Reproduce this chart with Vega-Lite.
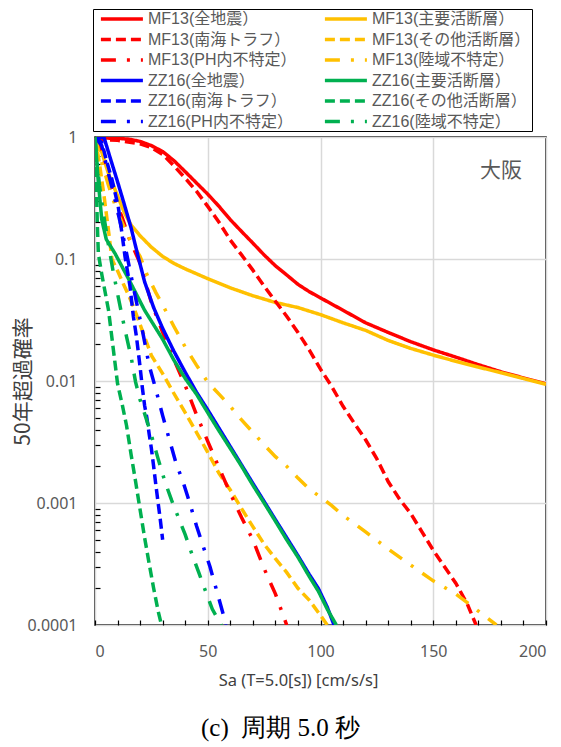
{
"$schema": "https://vega.github.io/schema/vega-lite/v6.json",
"width": 451, "height": 488,
"autosize": {"type": "none"},
"padding": {"left": 95, "top": 137, "right": 15, "bottom": 122},
"background": "white",
"config": {"view": {"stroke": "#000000", "strokeWidth": 1.5}, "font": "Noto Sans"},
"title": {"text": "(c)\u2002周期 5.0 秒", "orient": "bottom", "font": "Liberation Serif", "fontSize": 25, "fontWeight": "normal", "color": "#000000", "offset": 27, "dx": -40, "anchor": "middle"},
"resolve": {"axis": {"x": "independent", "y": "independent"}},
"layer": [
{
"data": {"values": [
{"s":"MF13(全地震）","x":0,"p":0.985},{"s":"MF13(全地震）","x":10,"p":0.975},{"s":"MF13(全地震）","x":15,"p":0.96},{"s":"MF13(全地震）","x":20,"p":0.92},{"s":"MF13(全地震）","x":25,"p":0.85},{"s":"MF13(全地震）","x":30,"p":0.76},{"s":"MF13(全地震）","x":35,"p":0.64},{"s":"MF13(全地震）","x":40,"p":0.52},{"s":"MF13(全地震）","x":45,"p":0.42},{"s":"MF13(全地震）","x":50,"p":0.34},{"s":"MF13(全地震）","x":55,"p":0.27},{"s":"MF13(全地震）","x":60,"p":0.21},{"s":"MF13(全地震）","x":65,"p":0.168},{"s":"MF13(全地震）","x":70,"p":0.135},{"s":"MF13(全地震）","x":75,"p":0.108},{"s":"MF13(全地震）","x":80,"p":0.088},{"s":"MF13(全地震）","x":85,"p":0.074},{"s":"MF13(全地震）","x":90,"p":0.062},{"s":"MF13(全地震）","x":95,"p":0.054},{"s":"MF13(全地震）","x":100,"p":0.048},{"s":"MF13(全地震）","x":110,"p":0.038},{"s":"MF13(全地震）","x":120,"p":0.030},{"s":"MF13(全地震）","x":130,"p":0.025},{"s":"MF13(全地震）","x":140,"p":0.021},{"s":"MF13(全地震）","x":150,"p":0.018},{"s":"MF13(全地震）","x":160,"p":0.0157},{"s":"MF13(全地震）","x":170,"p":0.0136},{"s":"MF13(全地震）","x":180,"p":0.0119},{"s":"MF13(全地震）","x":190,"p":0.0106},{"s":"MF13(全地震）","x":200,"p":0.0095},
{"s":"MF13(主要活断層）","x":0,"p":1},{"s":"MF13(主要活断層）","x":3,"p":0.75},{"s":"MF13(主要活断層）","x":6,"p":0.5},{"s":"MF13(主要活断層）","x":10,"p":0.33},{"s":"MF13(主要活断層）","x":13,"p":0.24},{"s":"MF13(主要活断層）","x":16,"p":0.19},{"s":"MF13(主要活断層）","x":20,"p":0.155},{"s":"MF13(主要活断層）","x":25,"p":0.125},{"s":"MF13(主要活断層）","x":30,"p":0.105},{"s":"MF13(主要活断層）","x":35,"p":0.092},{"s":"MF13(主要活断層）","x":40,"p":0.083},{"s":"MF13(主要活断層）","x":50,"p":0.069},{"s":"MF13(主要活断層）","x":60,"p":0.058},{"s":"MF13(主要活断層）","x":70,"p":0.05},{"s":"MF13(主要活断層）","x":80,"p":0.044},{"s":"MF13(主要活断層）","x":90,"p":0.04},{"s":"MF13(主要活断層）","x":100,"p":0.035},{"s":"MF13(主要活断層）","x":110,"p":0.03},{"s":"MF13(主要活断層）","x":120,"p":0.026},{"s":"MF13(主要活断層）","x":130,"p":0.0215},{"s":"MF13(主要活断層）","x":140,"p":0.0185},{"s":"MF13(主要活断層）","x":150,"p":0.0163},{"s":"MF13(主要活断層）","x":160,"p":0.0145},{"s":"MF13(主要活断層）","x":170,"p":0.013},{"s":"MF13(主要活断層）","x":180,"p":0.0117},{"s":"MF13(主要活断層）","x":190,"p":0.0105},{"s":"MF13(主要活断層）","x":200,"p":0.0094},
{"s":"MF13(南海トラフ）","x":0,"p":0.95},{"s":"MF13(南海トラフ）","x":10,"p":0.94},{"s":"MF13(南海トラフ）","x":20,"p":0.88},{"s":"MF13(南海トラフ）","x":25,"p":0.82},{"s":"MF13(南海トラフ）","x":30,"p":0.72},{"s":"MF13(南海トラフ）","x":35,"p":0.58},{"s":"MF13(南海トラフ）","x":40,"p":0.46},{"s":"MF13(南海トラフ）","x":45,"p":0.36},{"s":"MF13(南海トラフ）","x":50,"p":0.27},{"s":"MF13(南海トラフ）","x":55,"p":0.2},{"s":"MF13(南海トラフ）","x":60,"p":0.143},{"s":"MF13(南海トラフ）","x":65,"p":0.108},{"s":"MF13(南海トラフ）","x":70,"p":0.081},{"s":"MF13(南海トラフ）","x":75,"p":0.06},{"s":"MF13(南海トラフ）","x":80,"p":0.045},{"s":"MF13(南海トラフ）","x":85,"p":0.034},{"s":"MF13(南海トラフ）","x":90,"p":0.025},{"s":"MF13(南海トラフ）","x":95,"p":0.018},{"s":"MF13(南海トラフ）","x":100,"p":0.0125},{"s":"MF13(南海トラフ）","x":105,"p":0.009},{"s":"MF13(南海トラフ）","x":110,"p":0.0062},{"s":"MF13(南海トラフ）","x":115,"p":0.0045},{"s":"MF13(南海トラフ）","x":120,"p":0.0033},{"s":"MF13(南海トラフ）","x":125,"p":0.0023},{"s":"MF13(南海トラフ）","x":130,"p":0.0015},{"s":"MF13(南海トラフ）","x":135,"p":0.00108},{"s":"MF13(南海トラフ）","x":140,"p":0.00082},{"s":"MF13(南海トラフ）","x":145,"p":0.00058},{"s":"MF13(南海トラフ）","x":150,"p":0.00041},{"s":"MF13(南海トラフ）","x":155,"p":0.0003},{"s":"MF13(南海トラフ）","x":160,"p":0.00022},{"s":"MF13(南海トラフ）","x":165,"p":0.00015},{"s":"MF13(南海トラフ）","x":169,"p":0.0001},
{"s":"MF13(その他活断層）","x":0,"p":1},{"s":"MF13(その他活断層）","x":2,"p":0.6},{"s":"MF13(その他活断層）","x":4,"p":0.33},{"s":"MF13(その他活断層）","x":6,"p":0.17},{"s":"MF13(その他活断層）","x":7.5,"p":0.1},{"s":"MF13(その他活断層）","x":10,"p":0.08},{"s":"MF13(その他活断層）","x":12.5,"p":0.063},{"s":"MF13(その他活断層）","x":15,"p":0.05},{"s":"MF13(その他活断層）","x":17,"p":0.041},{"s":"MF13(その他活断層）","x":20,"p":0.029},{"s":"MF13(その他活断層）","x":25,"p":0.0162},{"s":"MF13(その他活断層）","x":30,"p":0.0115},{"s":"MF13(その他活断層）","x":35,"p":0.0079},{"s":"MF13(その他活断層）","x":40,"p":0.0055},{"s":"MF13(その他活断層）","x":45,"p":0.0038},{"s":"MF13(その他活断層）","x":50,"p":0.0026},{"s":"MF13(その他活断層）","x":55,"p":0.00175},{"s":"MF13(その他活断層）","x":60,"p":0.00128},{"s":"MF13(その他活断層）","x":65,"p":0.0009},{"s":"MF13(その他活断層）","x":70,"p":0.00064},{"s":"MF13(その他活断層）","x":75,"p":0.00046},{"s":"MF13(その他活断層）","x":80,"p":0.00035},{"s":"MF13(その他活断層）","x":85,"p":0.00027},{"s":"MF13(その他活断層）","x":90,"p":0.0002},{"s":"MF13(その他活断層）","x":95,"p":0.00016},{"s":"MF13(その他活断層）","x":100,"p":0.00012},{"s":"MF13(その他活断層）","x":103,"p":0.0001},
{"s":"MF13(PH内不特定）","x":0,"p":1},{"s":"MF13(PH内不特定）","x":3,"p":0.75},{"s":"MF13(PH内不特定）","x":6,"p":0.45},{"s":"MF13(PH内不特定）","x":9,"p":0.3},{"s":"MF13(PH内不特定）","x":12,"p":0.22},{"s":"MF13(PH内不特定）","x":15,"p":0.15},{"s":"MF13(PH内不特定）","x":20,"p":0.092},{"s":"MF13(PH内不特定）","x":25,"p":0.044},{"s":"MF13(PH内不特定）","x":30,"p":0.025},{"s":"MF13(PH内不特定）","x":35,"p":0.015},{"s":"MF13(PH内不特定）","x":40,"p":0.0092},{"s":"MF13(PH内不特定）","x":45,"p":0.0053},{"s":"MF13(PH内不特定）","x":50,"p":0.0032},{"s":"MF13(PH内不特定）","x":55,"p":0.00195},{"s":"MF13(PH内不特定）","x":60,"p":0.0012},{"s":"MF13(PH内不特定）","x":65,"p":0.00076},{"s":"MF13(PH内不特定）","x":70,"p":0.0005},{"s":"MF13(PH内不特定）","x":75,"p":0.00029},{"s":"MF13(PH内不特定）","x":80,"p":0.00018},{"s":"MF13(PH内不特定）","x":85,"p":0.0001},
{"s":"MF13(陸域不特定）","x":0,"p":1},{"s":"MF13(陸域不特定）","x":3,"p":0.62},{"s":"MF13(陸域不特定）","x":6,"p":0.4},{"s":"MF13(陸域不特定）","x":10,"p":0.24},{"s":"MF13(陸域不特定）","x":15,"p":0.15},{"s":"MF13(陸域不特定）","x":20,"p":0.105},{"s":"MF13(陸域不特定）","x":23,"p":0.075},{"s":"MF13(陸域不特定）","x":27,"p":0.053},{"s":"MF13(陸域不特定）","x":30,"p":0.042},{"s":"MF13(陸域不特定）","x":35,"p":0.028},{"s":"MF13(陸域不特定）","x":40,"p":0.019},{"s":"MF13(陸域不特定）","x":45,"p":0.0135},{"s":"MF13(陸域不特定）","x":50,"p":0.0098},{"s":"MF13(陸域不特定）","x":55,"p":0.0078},{"s":"MF13(陸域不特定）","x":60,"p":0.0062},{"s":"MF13(陸域不特定）","x":65,"p":0.0048},{"s":"MF13(陸域不特定）","x":70,"p":0.0038},{"s":"MF13(陸域不特定）","x":75,"p":0.003},{"s":"MF13(陸域不特定）","x":80,"p":0.0024},{"s":"MF13(陸域不特定）","x":85,"p":0.002},{"s":"MF13(陸域不特定）","x":90,"p":0.0016},{"s":"MF13(陸域不特定）","x":95,"p":0.0013},{"s":"MF13(陸域不特定）","x":100,"p":0.00112},{"s":"MF13(陸域不特定）","x":105,"p":0.00095},{"s":"MF13(陸域不特定）","x":110,"p":0.00079},{"s":"MF13(陸域不特定）","x":115,"p":0.00068},{"s":"MF13(陸域不特定）","x":120,"p":0.00058},{"s":"MF13(陸域不特定）","x":130,"p":0.00042},{"s":"MF13(陸域不特定）","x":140,"p":0.00031},{"s":"MF13(陸域不特定）","x":150,"p":0.00023},{"s":"MF13(陸域不特定）","x":160,"p":0.00018},{"s":"MF13(陸域不特定）","x":170,"p":0.00013},{"s":"MF13(陸域不特定）","x":178,"p":0.0001},
{"s":"ZZ16(全地震）","x":0,"p":1},{"s":"ZZ16(全地震）","x":4,"p":0.99},{"s":"ZZ16(全地震）","x":7,"p":0.65},{"s":"ZZ16(全地震）","x":10,"p":0.43},{"s":"ZZ16(全地震）","x":13,"p":0.28},{"s":"ZZ16(全地震）","x":16,"p":0.18},{"s":"ZZ16(全地震）","x":19,"p":0.107},{"s":"ZZ16(全地震）","x":22,"p":0.065},{"s":"ZZ16(全地震）","x":26,"p":0.04},{"s":"ZZ16(全地震）","x":30,"p":0.027},{"s":"ZZ16(全地震）","x":35,"p":0.0175},{"s":"ZZ16(全地震）","x":40,"p":0.0118},{"s":"ZZ16(全地震）","x":45,"p":0.0081},{"s":"ZZ16(全地震）","x":50,"p":0.0058},{"s":"ZZ16(全地震）","x":55,"p":0.0041},{"s":"ZZ16(全地震）","x":60,"p":0.0029},{"s":"ZZ16(全地震）","x":65,"p":0.00205},{"s":"ZZ16(全地震）","x":70,"p":0.00145},{"s":"ZZ16(全地震）","x":75,"p":0.00103},{"s":"ZZ16(全地震）","x":80,"p":0.00073},{"s":"ZZ16(全地震）","x":85,"p":0.00052},{"s":"ZZ16(全地震）","x":90,"p":0.00037},{"s":"ZZ16(全地震）","x":95,"p":0.00026},{"s":"ZZ16(全地震）","x":99,"p":0.0002},{"s":"ZZ16(全地震）","x":103,"p":0.00014},{"s":"ZZ16(全地震）","x":106,"p":0.0001},
{"s":"ZZ16(主要活断層）","x":0,"p":1},{"s":"ZZ16(主要活断層）","x":1.5,"p":0.42},{"s":"ZZ16(主要活断層）","x":3,"p":0.21},{"s":"ZZ16(主要活断層）","x":5,"p":0.145},{"s":"ZZ16(主要活断層）","x":9,"p":0.11},{"s":"ZZ16(主要活断層）","x":15,"p":0.068},{"s":"ZZ16(主要活断層）","x":22,"p":0.038},{"s":"ZZ16(主要活断層）","x":30,"p":0.022},{"s":"ZZ16(主要活断層）","x":35,"p":0.0148},{"s":"ZZ16(主要活断層）","x":40,"p":0.0105},{"s":"ZZ16(主要活断層）","x":45,"p":0.0078},{"s":"ZZ16(主要活断層）","x":50,"p":0.0055},{"s":"ZZ16(主要活断層）","x":55,"p":0.0039},{"s":"ZZ16(主要活断層）","x":60,"p":0.0028},{"s":"ZZ16(主要活断層）","x":65,"p":0.002},{"s":"ZZ16(主要活断層）","x":70,"p":0.0014},{"s":"ZZ16(主要活断層）","x":75,"p":0.001},{"s":"ZZ16(主要活断層）","x":80,"p":0.00071},{"s":"ZZ16(主要活断層）","x":85,"p":0.0005},{"s":"ZZ16(主要活断層）","x":90,"p":0.00036},{"s":"ZZ16(主要活断層）","x":95,"p":0.00025},{"s":"ZZ16(主要活断層）","x":99,"p":0.00019},{"s":"ZZ16(主要活断層）","x":103,"p":0.000135},{"s":"ZZ16(主要活断層）","x":107,"p":0.0001},
{"s":"ZZ16(南海トラフ）","x":0,"p":1},{"s":"ZZ16(南海トラフ）","x":3,"p":0.9},{"s":"ZZ16(南海トラフ）","x":5,"p":0.65},{"s":"ZZ16(南海トラフ）","x":7.5,"p":0.45},{"s":"ZZ16(南海トラフ）","x":10.3,"p":0.27},{"s":"ZZ16(南海トラフ）","x":11.8,"p":0.17},{"s":"ZZ16(南海トラフ）","x":13.3,"p":0.105},{"s":"ZZ16(南海トラフ）","x":15.5,"p":0.06},{"s":"ZZ16(南海トラフ）","x":17,"p":0.034},{"s":"ZZ16(南海トラフ）","x":18.4,"p":0.023},{"s":"ZZ16(南海トラフ）","x":20,"p":0.013},{"s":"ZZ16(南海トラフ）","x":21,"p":0.0088},{"s":"ZZ16(南海トラフ）","x":22,"p":0.0063},{"s":"ZZ16(南海トラフ）","x":23,"p":0.005},{"s":"ZZ16(南海トラフ）","x":24,"p":0.0037},{"s":"ZZ16(南海トラフ）","x":25,"p":0.0028},{"s":"ZZ16(南海トラフ）","x":26,"p":0.002},{"s":"ZZ16(南海トラフ）","x":27,"p":0.0014},{"s":"ZZ16(南海トラフ）","x":28,"p":0.001},{"s":"ZZ16(南海トラフ）","x":29,"p":0.00072},{"s":"ZZ16(南海トラフ）","x":30,"p":0.0005},
{"s":"ZZ16(その他活断層）","x":0,"p":1},{"s":"ZZ16(その他活断層）","x":0.5,"p":0.5},{"s":"ZZ16(その他活断層）","x":1,"p":0.2},{"s":"ZZ16(その他活断層）","x":1.5,"p":0.11},{"s":"ZZ16(その他活断層）","x":3,"p":0.075},{"s":"ZZ16(その他活断層）","x":6,"p":0.038},{"s":"ZZ16(その他活断層）","x":8,"p":0.019},{"s":"ZZ16(その他活断層）","x":10,"p":0.0095},{"s":"ZZ16(その他活断層）","x":12,"p":0.0065},{"s":"ZZ16(その他活断層）","x":14,"p":0.0043},{"s":"ZZ16(その他活断層）","x":16,"p":0.0025},{"s":"ZZ16(その他活断層）","x":18,"p":0.0015},{"s":"ZZ16(その他活断層）","x":20,"p":0.00088},{"s":"ZZ16(その他活断層）","x":22,"p":0.00052},{"s":"ZZ16(その他活断層）","x":24,"p":0.00032},{"s":"ZZ16(その他活断層）","x":26,"p":0.0002},{"s":"ZZ16(その他活断層）","x":28,"p":0.00013},{"s":"ZZ16(その他活断層）","x":29.5,"p":0.0001},
{"s":"ZZ16(PH内不特定）","x":0,"p":1},{"s":"ZZ16(PH内不特定）","x":3,"p":0.85},{"s":"ZZ16(PH内不特定）","x":6,"p":0.5},{"s":"ZZ16(PH内不特定）","x":9,"p":0.3},{"s":"ZZ16(PH内不特定）","x":12,"p":0.17},{"s":"ZZ16(PH内不特定）","x":15,"p":0.09},{"s":"ZZ16(PH内不特定）","x":18,"p":0.048},{"s":"ZZ16(PH内不特定）","x":21,"p":0.026},{"s":"ZZ16(PH内不特定）","x":24,"p":0.0135},{"s":"ZZ16(PH内不特定）","x":27,"p":0.0085},{"s":"ZZ16(PH内不特定）","x":30,"p":0.0052},{"s":"ZZ16(PH内不特定）","x":33,"p":0.0033},{"s":"ZZ16(PH内不特定）","x":36,"p":0.0021},{"s":"ZZ16(PH内不特定）","x":39,"p":0.0015},{"s":"ZZ16(PH内不特定）","x":42,"p":0.001},{"s":"ZZ16(PH内不特定）","x":45,"p":0.00065},{"s":"ZZ16(PH内不特定）","x":48,"p":0.00044},{"s":"ZZ16(PH内不特定）","x":51,"p":0.0003},{"s":"ZZ16(PH内不特定）","x":54,"p":0.00019},{"s":"ZZ16(PH内不特定）","x":57,"p":0.00012},{"s":"ZZ16(PH内不特定）","x":58,"p":0.0001},
{"s":"ZZ16(陸域不特定）","x":0,"p":1},{"s":"ZZ16(陸域不特定）","x":1,"p":0.6},{"s":"ZZ16(陸域不特定）","x":2,"p":0.4},{"s":"ZZ16(陸域不特定）","x":4,"p":0.22},{"s":"ZZ16(陸域不特定）","x":6,"p":0.13},{"s":"ZZ16(陸域不特定）","x":8,"p":0.08},{"s":"ZZ16(陸域不特定）","x":10,"p":0.052},{"s":"ZZ16(陸域不特定）","x":12,"p":0.034},{"s":"ZZ16(陸域不特定）","x":14,"p":0.023},{"s":"ZZ16(陸域不特定）","x":16,"p":0.0158},{"s":"ZZ16(陸域不特定）","x":18,"p":0.0098},{"s":"ZZ16(陸域不特定）","x":20,"p":0.007},{"s":"ZZ16(陸域不特定）","x":22,"p":0.0054},{"s":"ZZ16(陸域不特定）","x":25,"p":0.0036},{"s":"ZZ16(陸域不特定）","x":28,"p":0.0023},{"s":"ZZ16(陸域不特定）","x":31,"p":0.0015},{"s":"ZZ16(陸域不特定）","x":34,"p":0.00105},{"s":"ZZ16(陸域不特定）","x":37,"p":0.00076},{"s":"ZZ16(陸域不特定）","x":40,"p":0.00055},{"s":"ZZ16(陸域不特定）","x":43,"p":0.00038},{"s":"ZZ16(陸域不特定）","x":46,"p":0.00027},{"s":"ZZ16(陸域不特定）","x":49,"p":0.00019},{"s":"ZZ16(陸域不特定）","x":52,"p":0.000135},{"s":"ZZ16(陸域不特定）","x":56,"p":0.0001}
]},
"mark": {"type": "line", "strokeWidth": 3.5, "clip": true},
"encoding": {
"x": {"field": "x", "type": "quantitative", "scale": {"domain": [0, 200], "nice": false, "zero": false},
 "axis": {"values": [0, 50, 100, 150, 200], "grid": true, "gridColor": "#d9d9d9", "gridWidth": 1.5, "ticks": false, "domain": false, "labelFont": "Noto Sans", "labelFontSize": 16, "labelColor": "#595959", "labelPadding": 18, "title": "Sa (T=5.0[s]) [cm/s/s]", "titleFont": "Noto Sans", "titleFontSize": 16.5, "titleFontWeight": "normal", "titleColor": "#404040", "titlePadding": 13, "titleX": 203}},
"y": {"field": "p", "type": "quantitative", "scale": {"type": "log", "domain": [0.0001, 1], "nice": false},
 "axis": {"values": [0.0001, 0.001, 0.01, 0.1, 1], "format": "~g", "grid": true, "gridColor": "#d9d9d9", "gridWidth": 1.5, "ticks": false, "domain": false, "labelFont": "Noto Sans", "labelFontSize": 16, "labelColor": "#595959", "labelPadding": 18, "title": "50年超過確率", "titleFont": "Noto Sans CJK JP", "titleFontSize": 21, "titleFontWeight": "normal", "titleColor": "#404040", "titleX": -72, "titleY": 244, "titleAngle": -90, "titleBaseline": "middle", "titleAlign": "center"}},
"color": {"field": "s", "type": "nominal",
 "scale": {"domain": ["MF13(全地震）","MF13(南海トラフ）","MF13(PH内不特定）","ZZ16(全地震）","ZZ16(南海トラフ）","ZZ16(PH内不特定）","MF13(主要活断層）","MF13(その他活断層）","MF13(陸域不特定）","ZZ16(主要活断層）","ZZ16(その他活断層）","ZZ16(陸域不特定）"],
  "range": ["#FF0000","#FF0000","#FF0000","#0000FF","#0000FF","#0000FF","#FFC000","#FFC000","#FFC000","#00B050","#00B050","#00B050"]},
 "legend": {"title": null, "orient": "none", "legendX": -2, "legendY": -128, "columns": 2, "symbolType": "M-0.3,0H5.7", "symbolSize": 196, "symbolStrokeWidth": 3.5, "labelFont": "Liberation Sans, Noto Sans CJK JP", "labelFontSize": 16, "labelColor": "#595959", "labelOffset": 36, "rowPadding": 3.5, "columnPadding": 20, "padding": 1, "strokeColor": "#000000", "fillColor": "#ffffff", "labelLimit": 300}},
"strokeDash": {"field": "s", "type": "nominal",
 "scale": {"domain": ["MF13(全地震）","MF13(南海トラフ）","MF13(PH内不特定）","ZZ16(全地震）","ZZ16(南海トラフ）","ZZ16(PH内不特定）","MF13(主要活断層）","MF13(その他活断層）","MF13(陸域不特定）","ZZ16(主要活断層）","ZZ16(その他活断層）","ZZ16(陸域不特定）"],
  "range": [[1,0],[10,5],[15,11,3,11],[1,0],[10,5],[15,11,3,11],[1,0],[10,5],[15,11,3,11],[1,0],[10,5],[15,11,3,11]]}}
}
},
{
"data": {"values": [{"label": "大阪", "x": 180, "p": 0.53}]},
"mark": {"type": "text", "font": "Noto Sans CJK JP", "fontSize": 21, "color": "#595959", "align": "center", "baseline": "middle"},
"encoding": {
"x": {"field": "x", "type": "quantitative", "axis": {"orient": "bottom", "values": [0,10,20,30,40,50,60,70,80,90,100,110,120,130,140,150,160,170,180,190,200], "labels": false, "grid": false, "domain": false, "ticks": true, "tickSize": -5, "tickColor": "#000000", "tickWidth": 1.2, "title": null}},
"y": {"field": "p", "type": "quantitative", "axis": {"orient": "left", "values": [0.0002,0.0003,0.0004,0.0005,0.0006,0.0007,0.0008,0.0009,0.002,0.003,0.004,0.005,0.006,0.007,0.008,0.009,0.02,0.03,0.04,0.05,0.06,0.07,0.08,0.09,0.2,0.3,0.4,0.5,0.6,0.7,0.8,0.9], "labels": false, "grid": false, "domain": false, "ticks": true, "tickSize": -5, "tickColor": "#000000", "tickWidth": 1.2, "title": null}},
"text": {"field": "label"}
}
}
]
}
